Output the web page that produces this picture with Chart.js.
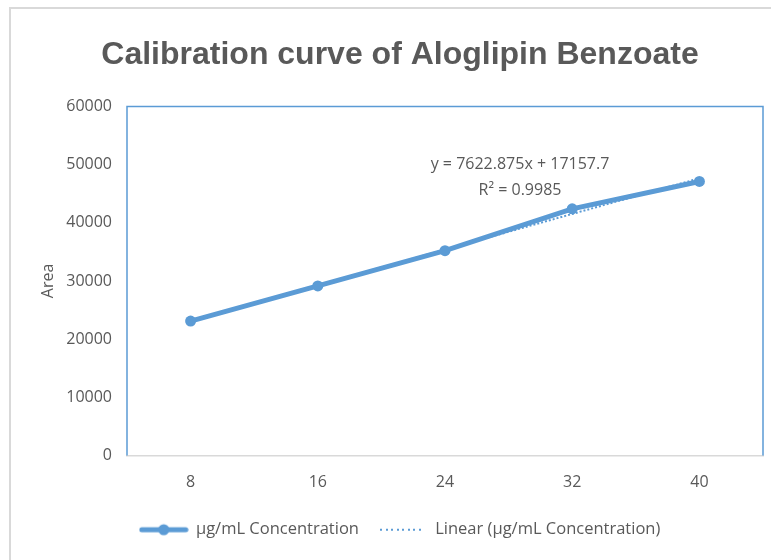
<!DOCTYPE html>
<html>
<head>
<meta charset="utf-8">
<script src="https://cdn.jsdelivr.net/npm/chart.js@4.4.1/dist/chart.umd.min.js"></script>
<style>
html,body{margin:0;padding:0;background:#fff;}
#wrap{width:771px;height:560px;position:relative;}
</style>
</head>
<body>
<div id="wrap"><canvas id="c" width="771" height="560"></canvas></div>
<script>
// ---- data ----
const categories = ['8', '16', '24', '32', '40'];
const areaValues = [23100, 29150, 35200, 42400, 47100];
const trendValues = [23140, 29265, 35390, 41515, 47640];
const yTicks = [0, 10000, 20000, 30000, 40000, 50000, 60000];
const seriesName = 'µg/mL Concentration';
const trendName = 'Linear (µg/mL Concentration)';
const equationLines = ['y = 7622.875x + 17157.7', 'R² = 0.9985'];
const titleText = 'Calibration curve of Aloglipin Benzoate';
const yTitle = 'Area';

const BLUE = '#5b9bd5';
const GREY_TXT = '#595959';
const FONT = "'Open Sans', 'Noto Sans', sans-serif";

function makeLineMarker() {
  const cv = document.createElement('canvas');
  cv.width = 50; cv.height = 14;
  const g = cv.getContext('2d');
  g.strokeStyle = BLUE; g.lineWidth = 5; g.lineCap = 'round';
  g.beginPath(); g.moveTo(3, 7); g.lineTo(47, 7); g.stroke();
  g.fillStyle = BLUE; g.beginPath(); g.arc(25, 7, 5.5, 0, Math.PI * 2); g.fill();
  return cv;
}
function makeDotMarker() {
  const cv = document.createElement('canvas');
  cv.width = 50; cv.height = 6;
  const g = cv.getContext('2d');
  g.fillStyle = BLUE;
  for (let x = 2; x < 46; x += 5.5) g.fillRect(Math.round(x), 2, 2, 2);
  return cv;
}
const markerLine = makeLineMarker();
const markerDot = makeDotMarker();

const framePlugin = {
  id: 'frame',
  beforeDraw(chart) {
    const ctx = chart.ctx;
    ctx.save();
    ctx.fillStyle = '#fff';
    ctx.fillRect(0, 0, chart.width, chart.height);
    ctx.strokeStyle = '#d9d9d9';
    ctx.lineWidth = 2;
    ctx.strokeRect(10, 8, 900, 700);
    ctx.restore();
  },
  afterDraw(chart) {
    const ctx = chart.ctx;
    const a = chart.chartArea;
    ctx.save();
    ctx.strokeStyle = BLUE;
    ctx.lineWidth = 1.5;
    ctx.beginPath();
    ctx.moveTo(a.left, a.bottom);
    ctx.lineTo(a.left, a.top);
    ctx.lineTo(a.right, a.top);
    ctx.lineTo(a.right, a.bottom);
    ctx.stroke();
    // equation text
    ctx.fillStyle = GREY_TXT;
    ctx.font = "16px " + FONT;
    ctx.textAlign = 'center';
    ctx.textBaseline = 'middle';
    ctx.fillText(equationLines[0], a.left + 393, a.top + 58);
    ctx.fillText(equationLines[1], a.left + 393, a.top + 84);
    ctx.restore();
  }
};

new Chart(document.getElementById('c'), {
  type: 'line',
  data: {
    labels: categories,
    datasets: [
      {
        label: seriesName,
        data: areaValues,
        borderColor: BLUE,
        backgroundColor: BLUE,
        borderWidth: 5,
        pointRadius: 5.5,
        pointHoverRadius: 5.5,
        pointBackgroundColor: BLUE,
        pointBorderWidth: 0,
        pointStyle: 'circle',
        tension: 0,
        order: 1
      },
      {
        label: trendName,
        data: trendValues,
        borderColor: BLUE,
        backgroundColor: BLUE,
        borderWidth: 2,
        borderDash: [2, 2],
        pointRadius: 0,
        tension: 0,
        order: 2
      }
    ]
  },
  options: {
    responsive: false,
    animation: false,
    devicePixelRatio: 1,
    layout: { padding: { left: 37, right: 8, top: 0, bottom: 12 } },
    plugins: {
      title: {
        display: true,
        text: titleText,
        color: GREY_TXT,
        font: { family: "'Liberation Sans Narrow', 'Liberation Sans', sans-serif", size: 32, weight: 'bold' },
        padding: { top: 36, bottom: 32 }
      },
      legend: {
        position: 'bottom',
        labels: {
          usePointStyle: true,
          pointStyleWidth: 48,
          padding: 20,
          color: GREY_TXT,
          font: { family: FONT, size: 16.5 },
          generateLabels(chart) {
            return chart.data.datasets.map((ds, i) => ({
              text: ds.label,
              pointStyle: i === 0 ? markerLine : markerDot,
              fillStyle: BLUE,
              strokeStyle: BLUE,
              lineWidth: 0,
              hidden: false,
              datasetIndex: i,
              fontColor: GREY_TXT
            }));
          }
        }
      },
      tooltip: { enabled: false }
    },
    scales: {
      x: {
        type: 'category',
        offset: true,
        grid: { display: false, drawTicks: false },
        border: { display: true, color: '#d9d9d9', width: 1.5 },
        ticks: { color: GREY_TXT, font: { family: FONT, size: 16 }, padding: 17, maxRotation: 0 },
        afterFit(s) { s.height = 46; }
      },
      y: {
        min: 0,
        max: 60000,
        grid: { display: false, drawTicks: false },
        border: { display: false },
        afterBuildTicks(s) { s.ticks = yTicks.map(v => ({ value: v })); },
        ticks: {
          color: GREY_TXT, font: { family: FONT, size: 16 }, padding: 15,
          callback: (v) => String(v)
        },
        title: { display: true, text: yTitle, color: GREY_TXT, font: { family: FONT, size: 16 }, padding: 2 },
        afterFit(s) { s.width = 90; }
      }
    }
  },
  plugins: [framePlugin]
});
</script>
</body>
</html>
